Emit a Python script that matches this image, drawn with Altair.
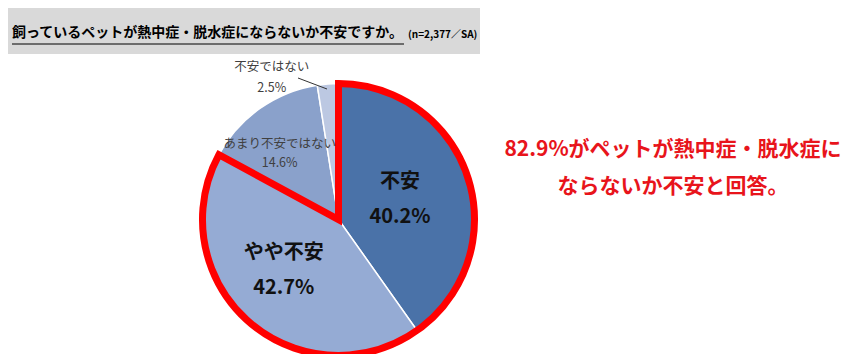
import altair as alt
import pandas as pd

# ---- data ----
categories = ["不安", "やや不安", "あまり不安ではない", "不安ではない"]
values = [40.2, 42.7, 14.6, 2.5]
colors = ["#4a72a8", "#95abd4", "#8aa1cb", "#bcc8e2"]
concern_group = ["concerned", "concerned", "not", "not"]

title_text = "飼っているペットが熱中症・脱水症にならないか不安ですか。"
sample_text = "(n=2,377／SA)"
note_text = "82.9%がペットが熱中症・脱水症に\nならないか不安と回答。"

FONT = "Noto Sans CJK JP"
W, H = 847, 346
CX, CY, R = 330.5, 211.5, 136

df = pd.DataFrame({
    "cat": categories,
    "value": values,
    "ord": list(range(len(categories))),
    "group": concern_group,
})

center = dict(x=alt.value(CX), y=alt.value(CY))

base = alt.Chart(df).encode(
    theta=alt.Theta("value:Q", stack=True),
    order=alt.Order("ord:Q"),
    **center,
)

pie = base.mark_arc(outerRadius=R, stroke="white", strokeWidth=1.5).encode(
    color=alt.Color("cat:N", scale=alt.Scale(domain=categories, range=colors), legend=None)
)

outline = alt.Chart(df).transform_aggregate(
    total="sum(value)", groupby=["group"]
).transform_calculate(
    gord="datum.group == 'concerned' ? 0 : 1"
).mark_arc(
    outerRadius=R, fill="transparent", stroke="#ff0000", strokeWidth=7, strokeJoin="miter"
).encode(
    theta=alt.Theta("total:Q", stack=True),
    order=alt.Order("gord:Q"),
    strokeOpacity=alt.condition("datum.group == 'concerned'", alt.value(1), alt.value(0)),
    **center,
)


def label(cat, radius, size, weight, color, lh, dx=0, dy=0):
    return base.transform_calculate(
        lbl=f"datum.cat == '{cat}' ? datum.cat + '\\n' + format(datum.value, '.1f') + '%' : ''"
    ).mark_text(
        radius=radius, fontSize=size, fontWeight=weight, color=color,
        lineBreak="\n", lineHeight=lh, dx=dx, dy=dy, font=FONT,
        align="center", baseline="middle",
    ).encode(text="lbl:N")


lab1 = label("不安", 64.5, 20, "bold", "#111111", 35, dy=-17.5)
lab2 = label("やや不安", 72, 20, "bold", "#111111", 35, dx=-7, dy=-20.5)
lab3 = label("あまり不安ではない", 88, 12.5, "normal", "#404040", 19, dx=-8, dy=-4)
lab4 = label("不安ではない", 150, 12.5, "normal", "#404040", 21, dx=-55, dy=-2.5)

one = alt.Data(values=[{"k": 1}])

leader = alt.Chart(one).mark_rule(color="#333333", strokeWidth=1).encode(
    x=alt.value(290), y=alt.value(70), x2=alt.value(319), y2=alt.value(81)
)

title_bg = alt.Chart(one).mark_rect(color="#d9d9d9").encode(
    x=alt.value(0), x2=alt.value(472), y=alt.value(0), y2=alt.value(46)
)
title = alt.Chart(one).mark_text(
    text=title_text, font=FONT, fontSize=14, fontWeight="bold", color="#000000",
    align="left", baseline="middle",
).encode(x=alt.value(4), y=alt.value(25))
underline = alt.Chart(one).mark_rule(color="#000000", strokeWidth=1).encode(
    x=alt.value(4), x2=alt.value(396), y=alt.value(36)
)
sample = alt.Chart(one).mark_text(
    text=sample_text, font=FONT, fontSize=10, fontWeight="bold", color="#000000",
    align="left", baseline="middle",
).encode(x=alt.value(400), y=alt.value(27))

note = alt.Chart(one).mark_text(
    text=note_text, font=FONT, fontSize=21, fontWeight="bold", color="#e8141b",
    align="center", baseline="middle", lineBreak="\n", lineHeight=37,
).encode(x=alt.value(665), y=alt.value(142))

chart = alt.layer(
    title_bg, title, underline, sample,
    pie, outline, lab1, lab2, lab3, lab4, leader, note,
).resolve_scale(theta="shared").properties(
    width=W, height=H, padding=0,
    autosize=alt.AutoSizeParams(type="none"),
    background="white",
).configure_view(strokeWidth=0)

chart.save("out.html", embed_options={"renderer": "svg", "actions": False})
